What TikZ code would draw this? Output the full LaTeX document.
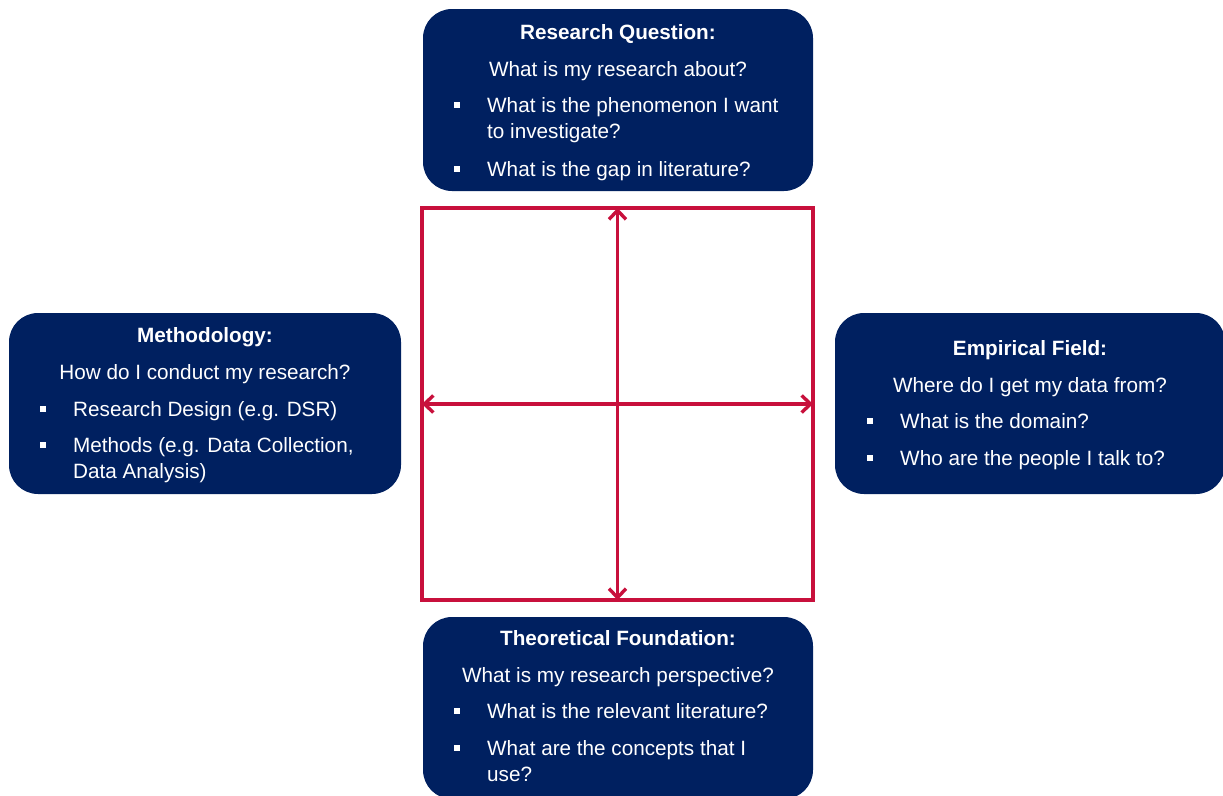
\documentclass[tikz,border=0pt]{standalone}
\usepackage{fontspec}
\setmainfont{Liberation Sans}
\usetikzlibrary{arrows.meta}
\definecolor{navy}{RGB}{0,32,96}
\definecolor{crimson}{RGB}{200,16,60}
\begin{document}
\begin{tikzpicture}[x=1pt,y=-1pt,
  box/.style={fill=navy, rounded corners=29pt, inner sep=0pt, draw=none},
  ttl/.style={anchor=base, inner sep=0pt, text=white, font=\fontsize{20.7}{25}\selectfont\bfseries},
  txt/.style={anchor=base, inner sep=0pt, text=white, font=\fontsize{20.7}{25}\selectfont},
  btxt/.style={anchor=base west, inner sep=0pt, text=white, font=\fontsize{20.7}{25}\selectfont},
  bul/.style={fill=white, minimum size=5.5pt, inner sep=0pt, draw=none},
  frm/.style={draw=crimson, line width=3.2pt, inner sep=0pt},
  arr/.style={draw=crimson, line width=3.4pt, {Straight Barb[length=9pt,width=17pt]}-{Straight Barb[length=9pt,width=17pt]}, shorten <=1.5pt, shorten >=1.5pt}
]
\useasboundingbox (0,0) rectangle (1223,795);

% boxes
\node[box, minimum width=390pt, minimum height=182pt] (rq) at (618,100) {};
\node[box, minimum width=392pt, minimum height=181pt] (me) at (205,403.5) {};
\node[box, minimum width=390pt, minimum height=181pt] (ef) at (1030,403.5) {};
\node[box, minimum width=390pt, minimum height=182pt] (tf) at (618,708) {};

% frame and arrows
\node[frm, minimum width=391pt, minimum height=392pt] (frame) at (617.5,404) {};
\draw[arr] (frame.south) -- (frame.north);
\draw[arr] (frame.west) -- (frame.east);

% Research Question
\node[ttl] (rqt) at (618,39) {Research Question:};
\node[txt] (rqs) at (618,76) {What is my research about?};
\node[bul] (rqb1) at (457,105) {};
\node[btxt] (rq1a) at (487,112) {What is the phenomenon I want};
\node[btxt] (rq1b) at (487,138.5) {to investigate?};
\node[bul] (rqb2) at (457,169) {};
\node[btxt] (rq2) at (487,176) {What is the gap in literature?};

% Methodology
\node[ttl] (met) at (205,342) {Methodology:};
\node[txt] (mes) at (205,379) {How do I conduct my research?};
\node[bul] (meb1) at (43,409) {};
\node[btxt] (me1) at (73,416) {Research Design (e.g. DSR)};
\node[bul] (meb2) at (43,445) {};
\node[btxt] (me2a) at (73,452) {Methods (e.g. Data Collection,};
\node[btxt] (me2b) at (73,478.5) {Data Analysis)};

% Empirical Field
\node[ttl] (eft) at (1030,355) {Empirical Field:};
\node[txt] (efs) at (1030,392) {Where do I get my data from?};
\node[bul] (efb1) at (870,421) {};
\node[btxt] (ef1) at (900,428) {What is the domain?};
\node[bul] (efb2) at (870,458) {};
\node[btxt] (ef2) at (900,465) {Who are the people I talk to?};

% Theoretical Foundation
\node[ttl] (tft) at (618,645) {Theoretical Foundation:};
\node[txt] (tfs) at (618,682) {What is my research perspective?};
\node[bul] (tfb1) at (457,711) {};
\node[btxt] (tf1) at (487,718) {What is the relevant literature?};
\node[bul] (tfb2) at (457,748) {};
\node[btxt] (tf2a) at (487,755) {What are the concepts that I};
\node[btxt] (tf2b) at (487,781.5) {use?};
\end{tikzpicture}
\end{document}
